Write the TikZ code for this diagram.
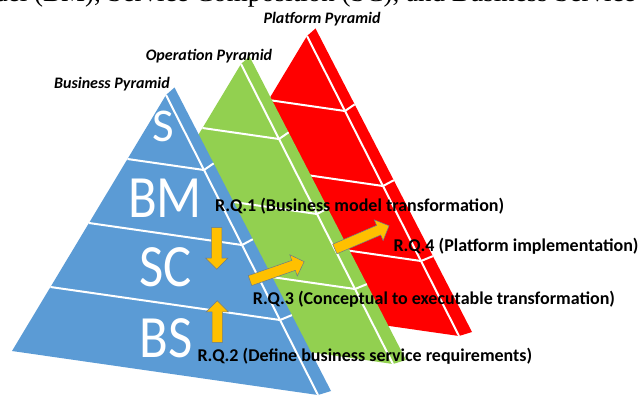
\documentclass[tikz,border=0pt]{standalone}
\usepackage{fontspec}
\setmainfont{Carlito}
\newfontfamily\serifpaper{Liberation Serif}
\usetikzlibrary{shapes.arrows}
\definecolor{pblue}{HTML}{5B9BD5}
\definecolor{pgreen}{HTML}{92D050}
\definecolor{pred}{HTML}{FF0000}
\definecolor{parrow}{HTML}{FFC000}
\definecolor{parrowedge}{HTML}{6A7B8C}
\tikzset{
  divider/.style={draw=white, line width=2pt},
  pyrlabel/.style={font=\fontsize{16}{16}\selectfont\bfseries\itshape, inner sep=0pt},
  layerlabel/.style={font=\fontsize{60}{60}\selectfont, text=white, inner sep=0pt},
  rqlabel/.style={font=\fontsize{18}{18}\selectfont\bfseries, inner sep=0pt, anchor=west},
  blockarrow/.style={single arrow, fill=parrow, draw=parrowedge, line width=0.5pt,
    inner xsep=0pt, inner ysep=5pt, single arrow head extend=6pt,
    single arrow head indent=0pt, minimum height=#1},
}
\newcommand\narrowtext[1]{\scalebox{0.88}[1]{#1}}
\newcommand\pyramidat[3]{%
  \begin{scope}[shift={(#1,#2)}]
    \fill[#3] (0,0) -- (-154,256) -- (152,300) -- cycle;
    \fill[#3] (0,0) -- (8.5,-7.5) -- (165,296) -- (152,300) -- cycle;
    \draw[divider] (0,0) -- (152,300);
    \foreach \k in {1,2,3}{
      \draw[divider] ({-154*\k/4},{256*\k/4}) -- ({152*\k/4},{300*\k/4})
        -- ({8.5+156.5*\k/4},{-7.5+303.5*\k/4});
    }
  \end{scope}}
\begin{document}
\begin{tikzpicture}[x=1pt,y=-1pt]
\useasboundingbox (0,0) rectangle (639,396);
\fill[white] (0,0) rectangle (639,396);
% cropped caption line of the source page
\node[anchor=base west, inner sep=0pt, font=\serifpaper\fontsize{27}{27}\selectfont] (papertext) at (34,1.5)
  {\llap{Business Model }(BM), Service Composition (SC), and Business Service (BS)};
% pyramids, back to front
\pyramidat{307}{36}{pred}
\pyramidat{241}{64}{pgreen}
\pyramidat{166}{95}{pblue}
% pyramid titles
\node[pyrlabel] (tplat) at (322,19) {Platform Pyramid};
\node[pyrlabel] (toper) at (209,56) {Operation Pyramid};
\node[pyrlabel] (tbus) at (112,84) {Business Pyramid};
% layer letters
\node[layerlabel, font=\fontsize{47}{47}\selectfont] (ls) at (163.7,126.7) {S};
\node[layerlabel] (lbm) at (165,198) {\narrowtext{BM}};
\node[layerlabel] (lsc) at (165.8,267.5) {\narrowtext{SC}};
\node[layerlabel] (lbs) at (165.8,338) {\narrowtext{BS}};
% arrows
\node[blockarrow=41.7, rotate=-90] (a1) at (216.7,245.8) {};
\node[blockarrow=41.7, rotate=90] (a2) at (217.3,324.2) {};
\node[blockarrow=57.4, rotate=19.3] (a3) at (274.6,272) {};
\node[blockarrow=59, rotate=23.2] (a4) at (359.5,238.4) {};
% research question labels
\node[rqlabel] (rq1) at (215,205.7) {R.Q.1 (Business model transformation)};
\node[rqlabel] (rq4) at (393.3,246) {R.Q.4 (Platform implementation)};
\node[rqlabel] (rq3) at (252.7,299.3) {R.Q.3 (Conceptual to executable transformation)};
\node[rqlabel] (rq2) at (197.3,356.7) {R.Q.2 (Define business service requirements)};
\end{tikzpicture}
\end{document}
